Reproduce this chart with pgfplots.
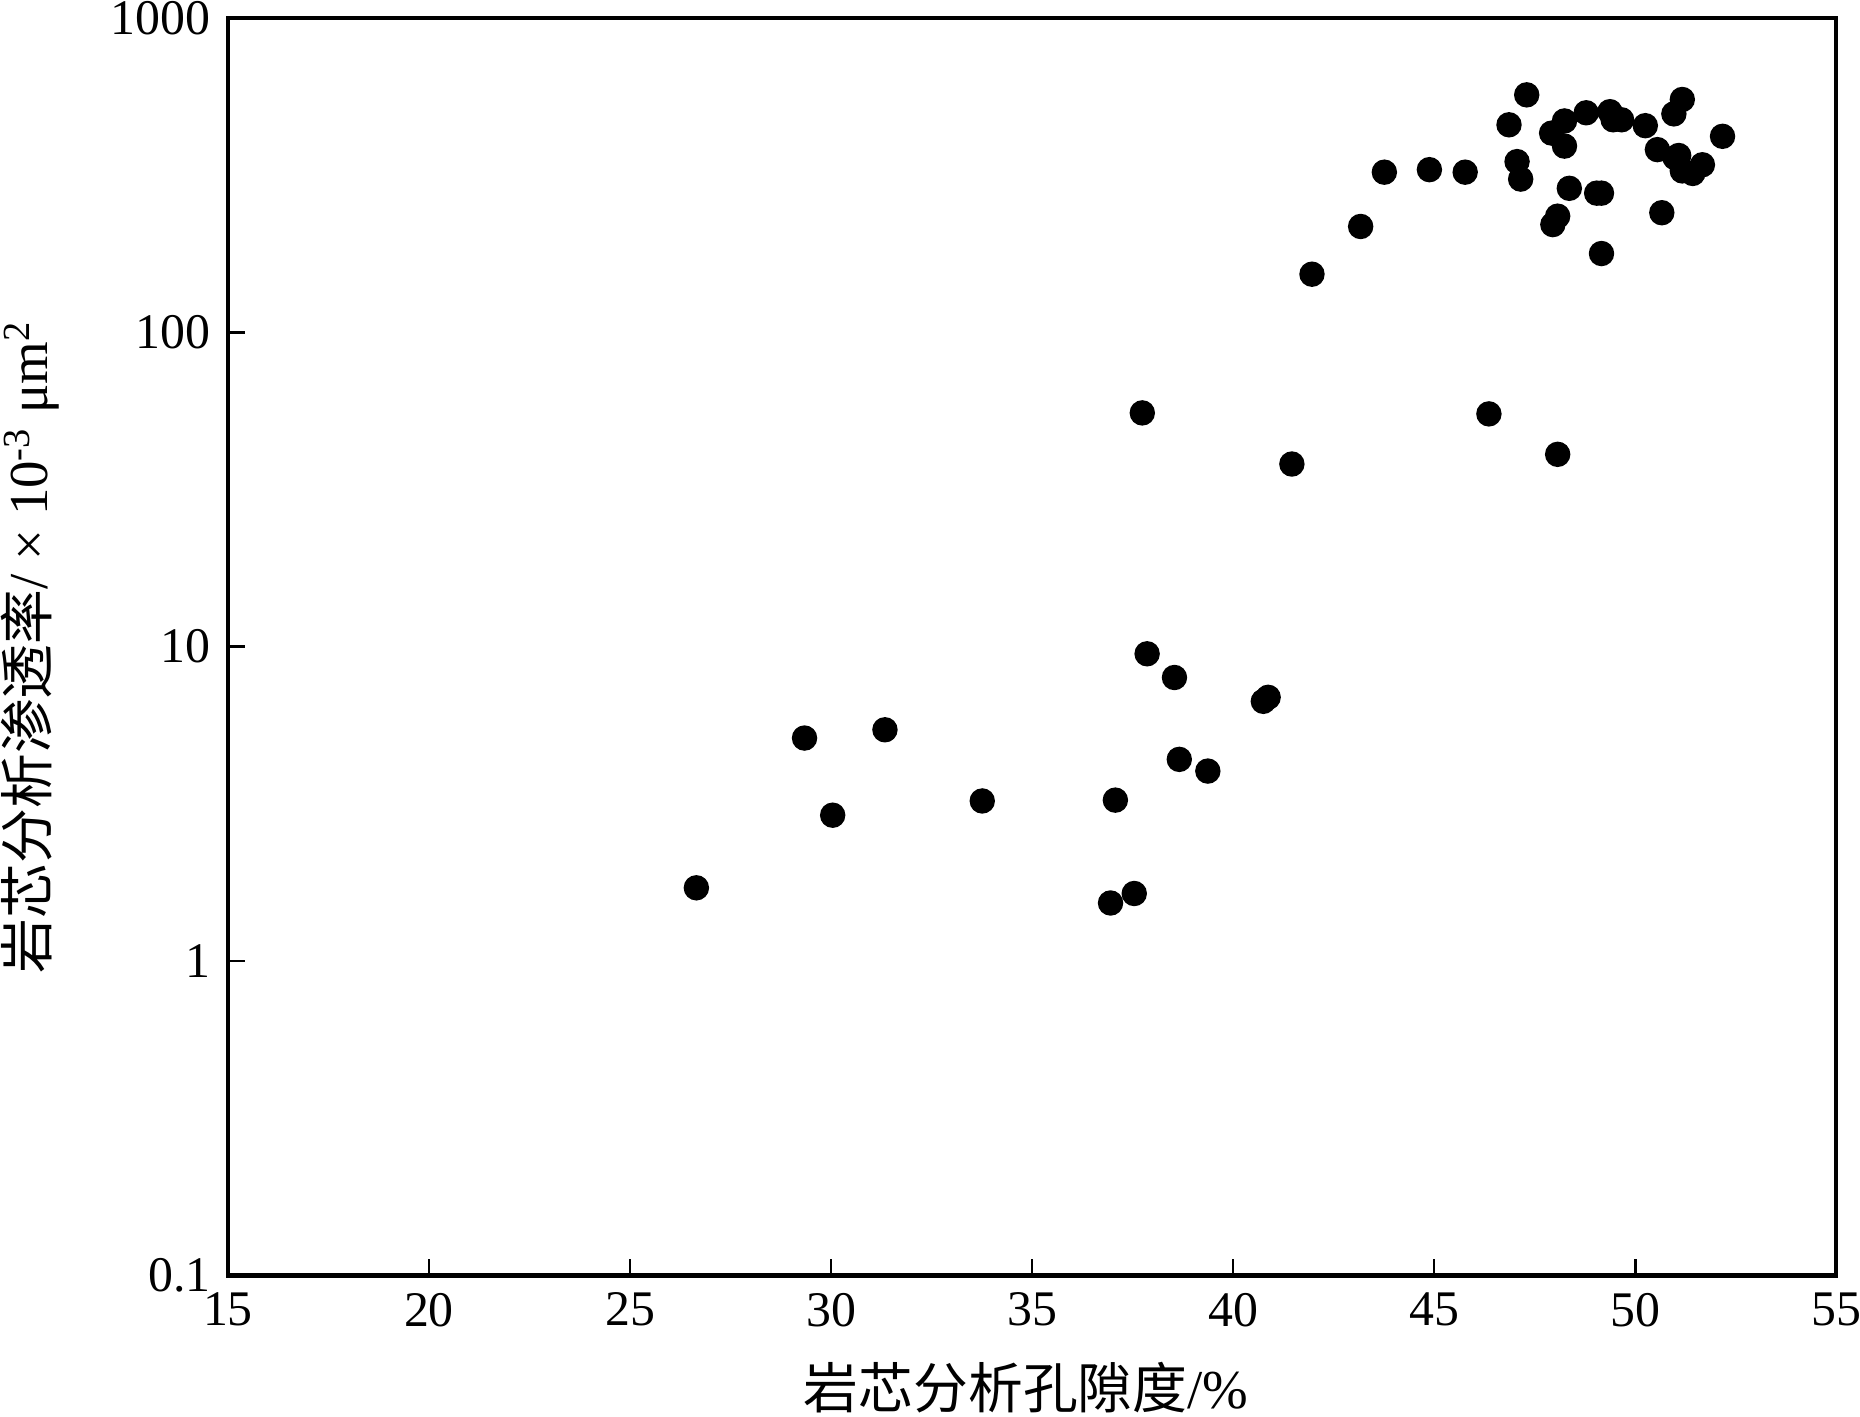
\documentclass[border=0pt]{standalone}
\usepackage{fontspec}
\setmainfont{Liberation Serif}
\newfontfamily\cjk{Noto Sans CJK SC}
\usepackage{pgfplots}
\pgfplotsset{compat=1.18}
\pgfplotstableread{
x y
26.65 1.71
29.34 5.12
30.04 2.91
31.34 5.44
33.76 3.23
36.95 1.53
37.07 3.25
37.54 1.64
37.74 55.4
37.86 9.49
38.54 7.98
38.66 4.38
39.37 4.02
40.75 6.70
40.87 6.90
41.46 38.1
41.96 153
43.17 217
43.76 323
44.88 329
45.77 323
46.36 55
46.86 457
47.06 349
47.15 307
47.30 569
47.92 430
47.95 220
48.07 234
48.07 40.9
48.24 470
48.24 391
48.36 287
48.78 499
49.04 277
49.16 277
49.16 178
49.37 503
49.45 474
49.66 474
50.25 454
50.55 381
50.66 240
50.96 495
50.99 359
51.08 365
51.17 550
51.17 326
51.43 320
51.67 341
52.17 420
}\pts
\begin{document}
\fontsize{12}{14}\selectfont
\begin{tikzpicture}
\useasboundingbox (-54.9pt,-34pt) rectangle (393.1pt,307.2pt);
\begin{axis}[
  scale only axis, width=387.4pt, height=302.9pt,
  xmin=15, xmax=55, ymode=log, ymin=0.1, ymax=1000,
  xtick={15,20,...,55},
  ytick={0.1,1,10,100,1000}, yticklabels={0.1,1,10,100,1000},
  yminorticks=false, xminorticks=false,
  tick align=inside, tick pos=left,
  major tick length=4pt,
  axis line style={line width=1pt},
  tick style={line width=0.6pt, black},
  /pgf/number format/assume math mode=true,
  ticklabel style={font=\fontsize{12}{14}\selectfont},
  xlabel={{\cjk 岩芯分析孔隙度}/\%},
  ylabel={{\cjk 岩芯分析渗透率}/ × 10\textsuperscript{-3} μm\textsuperscript{2}},
  label style={font=\fontsize{13.2}{15}\selectfont},
  xlabel style={at={(axis description cs:0.4963,-0.0891)}, anchor=center},
  ylabel style={at={(axis description cs:-0.1231,0.5)}, anchor=center},
]
\addplot[only marks, mark=*, mark size=2.86pt, mark options={fill=black, draw=black}] table[x=x,y=y] {\pts};
\end{axis}
\end{tikzpicture}
\end{document}
